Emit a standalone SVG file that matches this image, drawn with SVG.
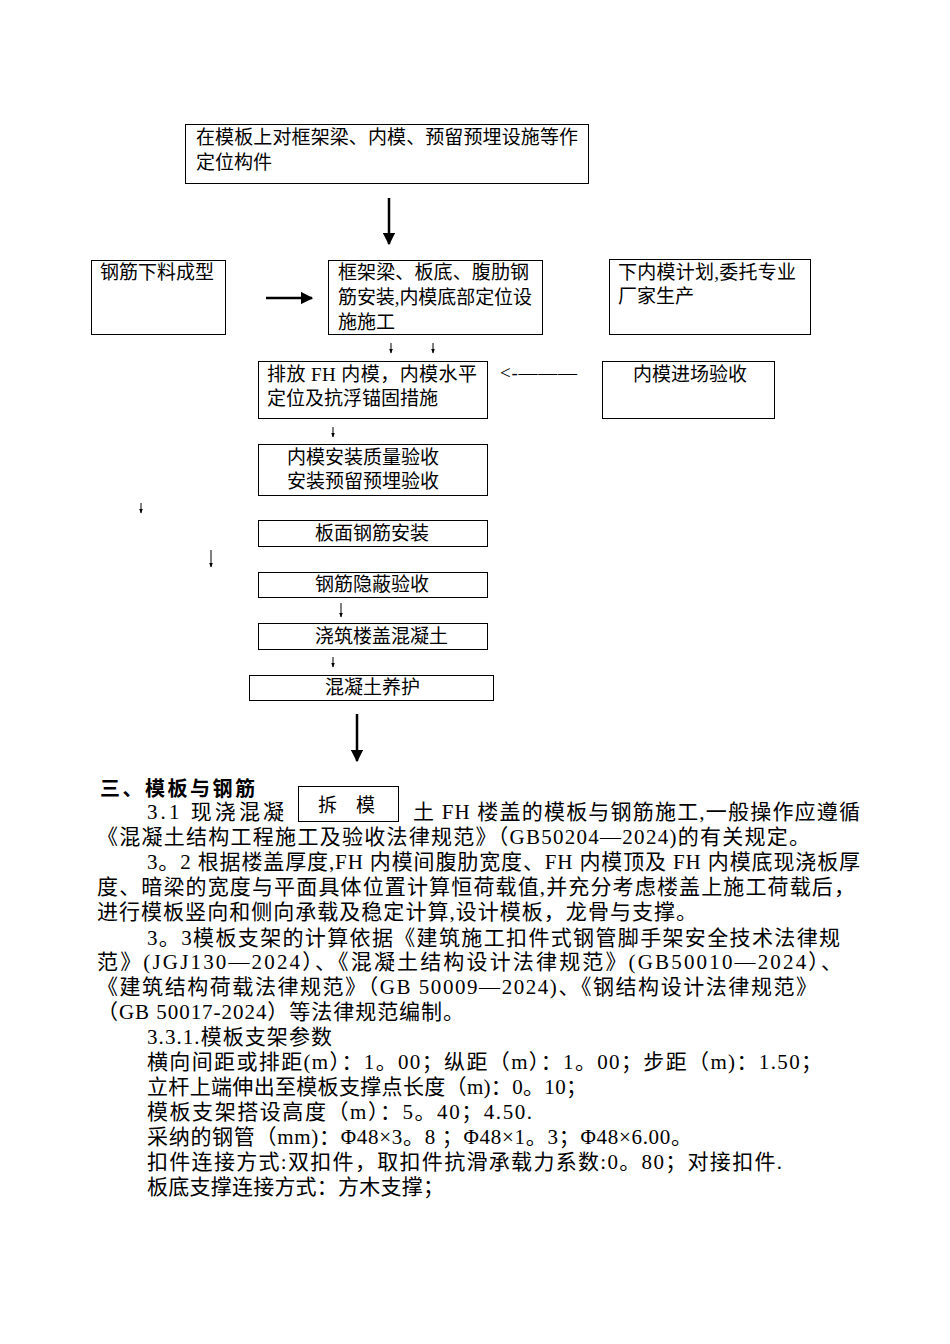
<svg xmlns="http://www.w3.org/2000/svg" width="950" height="1344" viewBox="0 0 950 1344">
<style>
.box{fill:#fff;stroke:#000;stroke-width:1}
.t{font-family:"Liberation Serif","Noto Sans CJK SC",serif;font-size:19px;fill:#000}
.b{font-family:"Liberation Serif","Noto Sans CJK SC",serif;font-size:21px;fill:#000}
.h{font-family:"Liberation Sans","Noto Sans CJK SC",sans-serif;font-size:20px;font-weight:bold;fill:#000}
.big{stroke:#000;stroke-width:2.5;fill:none}
.sm{stroke:#000;stroke-width:1;fill:none}
</style>
<defs>
<marker id="ah" viewBox="0 0 10 10" refX="9" refY="5" markerWidth="5" markerHeight="5" markerUnits="strokeWidth" orient="auto"><path d="M0,0 L10,5 L0,10 Z" fill="#000"/></marker>
<marker id="as" viewBox="0 0 10 10" refX="9" refY="5" markerWidth="5" markerHeight="5" markerUnits="strokeWidth" orient="auto"><path d="M0,1 L10,5 L0,9 Z" fill="#000"/></marker>
</defs>
<rect width="950" height="1344" fill="#fff"/>

<g id="n1"><rect class="box" x="185.5" y="124.5" width="403" height="59"/>
<text class="t" x="196" y="144" textLength="382" lengthAdjust="spacing">在模板上对框架梁、内模、预留预埋设施等作</text>
<text class="t" x="196" y="169">定位构件</text></g>

<g id="n2"><rect class="box" x="91.5" y="260.5" width="134" height="74"/>
<text class="t" x="100" y="279">钢筋下料成型</text></g>

<g id="n3"><rect class="box" x="328.5" y="260.5" width="214" height="74"/>
<text class="t" x="338" y="279" textLength="191" lengthAdjust="spacing">框架梁、板底、腹肋钢</text>
<text class="t" x="338" y="304" textLength="194" lengthAdjust="spacing">筋安装,内模底部定位设</text>
<text class="t" x="338" y="329">施施工</text></g>

<g id="n4"><rect class="box" x="609.5" y="259.5" width="201" height="75"/>
<text class="t" x="618" y="279" textLength="178" lengthAdjust="spacing">下内模计划,委托专业</text>
<text class="t" x="618" y="303">厂家生产</text></g>

<g id="n5"><rect class="box" x="258.5" y="361.5" width="229" height="57"/>
<text class="t" x="267" y="381" textLength="210" lengthAdjust="spacing">排放 FH 内模，内模水平</text>
<text class="t" x="267" y="405">定位及抗浮锚固措施</text></g>

<g id="n6"><rect class="box" x="602.5" y="361.5" width="172" height="57"/>
<text class="t" x="633" y="381">内模进场验收</text></g>

<g id="n7"><rect class="box" x="258.5" y="444.5" width="229" height="51"/>
<text class="t" x="287" y="464">内模安装质量验收</text>
<text class="t" x="287" y="488">安装预留预埋验收</text></g>

<g id="n8"><rect class="box" x="258.5" y="520.5" width="229" height="26"/>
<text class="t" x="315" y="540">板面钢筋安装</text></g>

<g id="n9"><rect class="box" x="258.5" y="572.5" width="229" height="25"/>
<text class="t" x="315" y="591">钢筋隐蔽验收</text></g>

<g id="n10"><rect class="box" x="258.5" y="623.5" width="229" height="26"/>
<text class="t" x="315" y="643">浇筑楼盖混凝土</text></g>

<g id="n11"><rect class="box" x="249.5" y="675.5" width="244" height="25"/>
<text class="t" x="325" y="694">混凝土养护</text></g>

<g id="n12"><rect class="box" x="298.5" y="786.5" width="100" height="35"/>
<text class="t" x="318" y="812">拆</text><text class="t" x="356" y="812">模</text></g>

<g id="connectors">
<line class="big" x1="389" y1="198" x2="389" y2="244" marker-end="url(#ah)"/>
<line class="big" x1="266" y1="298" x2="312" y2="298" marker-end="url(#ah)"/>
<line class="big" x1="357" y1="714" x2="357" y2="761" marker-end="url(#ah)"/>
<line class="sm" x1="391" y1="343" x2="391" y2="353" marker-end="url(#as)"/>
<line class="sm" x1="433" y1="343" x2="433" y2="353" marker-end="url(#as)"/>
<line class="sm" x1="333" y1="427" x2="333" y2="437" marker-end="url(#as)"/>
<line class="sm" x1="141" y1="503" x2="141" y2="513" marker-end="url(#as)"/>
<line class="sm" x1="211" y1="550" x2="211" y2="567" marker-end="url(#as)"/>
<line class="sm" x1="341" y1="603" x2="341" y2="617" marker-end="url(#as)"/>
<line class="sm" x1="333" y1="657" x2="333" y2="667" marker-end="url(#as)"/>
<text class="t" x="500" y="379" font-size="16" textLength="77" lengthAdjust="spacing">&lt; - — — —</text>
</g>

<g id="body">
<text class="h" x="100" y="796" textLength="155" lengthAdjust="spacing">三、模板与钢筋</text>
<text class="b" x="147" y="819" textLength="137" lengthAdjust="spacing">3.1 现浇混凝</text>
<text class="b" x="413" y="819" textLength="447" lengthAdjust="spacing">土 FH 楼盖的模板与钢筋施工,一般操作应遵循</text>
<text class="b" x="97" y="844" textLength="713" lengthAdjust="spacing">《混凝土结构工程施工及验收法律规范》（GB50204—2024)的有关规定。</text>
<text class="b" x="147" y="869" textLength="713" lengthAdjust="spacing">3。2 根据楼盖厚度,FH 内模间腹肋宽度、FH 内模顶及 FH 内模底现浇板厚</text>
<text class="b" x="97" y="894" textLength="758" lengthAdjust="spacing">度、暗梁的宽度与平面具体位置计算恒荷载值,并充分考虑楼盖上施工荷载后，</text>
<text class="b" x="97" y="919" textLength="600" lengthAdjust="spacing">进行模板竖向和侧向承载及稳定计算,设计模板，龙骨与支撑。</text>
<text class="b" x="147" y="945" textLength="693" lengthAdjust="spacing">3。3模板支架的计算依据《建筑施工扣件式钢管脚手架安全技术法律规</text>
<text class="b" x="97" y="969" textLength="745" lengthAdjust="spacing">范》(JGJ130—2024）、《混凝土结构设计法律规范》(GB50010—2024）、</text>
<text class="b" x="97" y="994" textLength="720" lengthAdjust="spacing">《建筑结构荷载法律规范》（GB 50009—2024)、《钢结构设计法律规范》</text>
<text class="b" x="97" y="1019" textLength="367" lengthAdjust="spacing">（GB 50017-2024）等法律规范编制。</text>
<text class="b" x="147" y="1044" textLength="185" lengthAdjust="spacing">3.3.1.模板支架参数</text>
<text class="b" x="147" y="1069" textLength="675" lengthAdjust="spacing">横向间距或排距(m）：1。00；纵距（m）：1。00；步距（m)：1.50；</text>
<text class="b" x="147" y="1094" textLength="440" lengthAdjust="spacing">立杆上端伸出至模板支撑点长度（m)：0。10；</text>
<text class="b" x="147" y="1119" textLength="385" lengthAdjust="spacing">模板支架搭设高度（m）：5。40；4.50.</text>
<text class="b" x="147" y="1144" textLength="545" lengthAdjust="spacing">采纳的钢管（mm)：Φ48×3。8 ；Φ48×1。3；Φ48×6.00。</text>
<text class="b" x="147" y="1169" textLength="635" lengthAdjust="spacing">扣件连接方式:双扣件，取扣件抗滑承载力系数:0。80；对接扣件.</text>
<text class="b" x="147" y="1194" textLength="297" lengthAdjust="spacing">板底支撑连接方式：方木支撑；</text>
</g>
</svg>
